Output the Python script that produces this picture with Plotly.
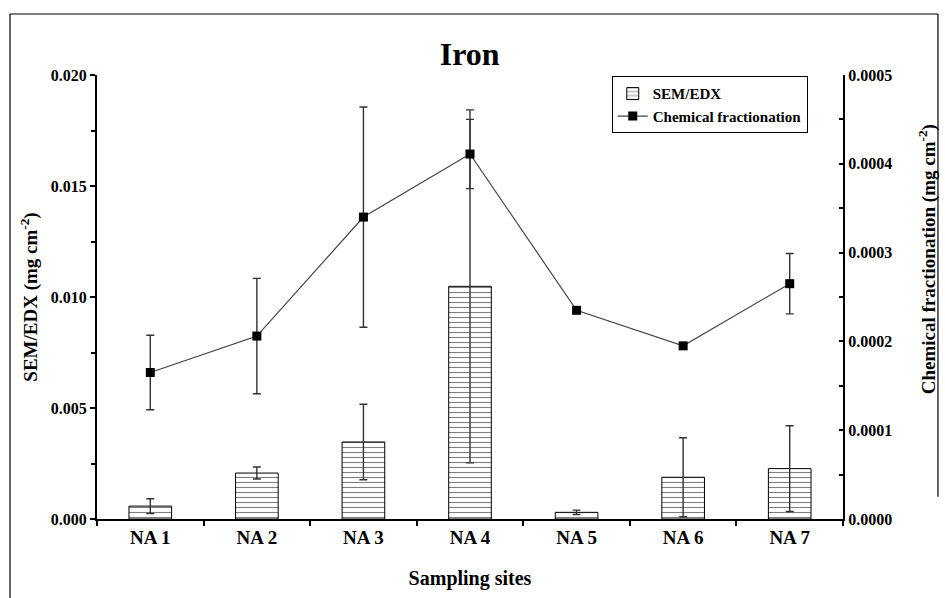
import plotly.graph_objects as go

# Sampling sites
sites = ["NA 1", "NA 2", "NA 3", "NA 4", "NA 5", "NA 6", "NA 7"]

# SEM/EDX iron load (mg cm-2) and its error
sem_edx = [0.00058, 0.00207, 0.00347, 0.01048, 0.00030, 0.00188, 0.00227]
sem_edx_err = [0.00033, 0.00027, 0.00170, 0.00795, 0.00010, 0.00178, 0.00193]

# Chemical fractionation iron load (mg cm-2) and its error
chem_frac = [0.000165, 0.000206, 0.000340, 0.000411, 0.000235, 0.000195, 0.000265]
chem_frac_err = [0.000042, 0.000065, 0.000124, 0.000039, 0.0, 0.0, 0.000034]

FONT = "Liberation Serif"

fig = go.Figure()

fig.add_trace(go.Bar(
    x=sites, y=sem_edx, name="<b>SEM/EDX</b>", width=0.4,
    marker=dict(color="white", line=dict(color="black", width=1),
                pattern=dict(shape="-", fgcolor="black", bgcolor="white",
                             size=5, solidity=0.22)),
    error_y=dict(type="data", array=sem_edx_err, visible=True,
                 color="#333333", thickness=1.4, width=4),
))

fig.add_trace(go.Scatter(
    x=sites, y=chem_frac, name="<b>Chemical fractionation</b>", yaxis="y2",
    mode="lines+markers",
    line=dict(color="#444444", width=1.2),
    marker=dict(symbol="square", size=9, color="black"),
    error_y=dict(type="data", array=chem_frac_err, visible=True,
                 color="#333333", thickness=1.4, width=4),
))

axis_font = dict(family=FONT, size=16, color="black")

fig.update_layout(
    width=945, height=598,
    margin=dict(l=97, r=102, t=75, b=79),
    paper_bgcolor="white", plot_bgcolor="white",
    font=dict(family=FONT, color="black"),
    title=dict(text="<b>Iron</b>", x=0.497, xanchor="center", y=0.91, yanchor="middle",
               font=dict(family=FONT, size=32, color="black")),
    showlegend=True,
    legend=dict(x=0.69, y=0.997, xanchor="left", yanchor="top",
                bgcolor="white", bordercolor="black", borderwidth=1,
                font=dict(family=FONT, size=15, color="black"),
                tracegroupgap=0, itemwidth=30),
    xaxis=dict(
        type="category", tickson="boundaries", ticks="outside", ticklen=5,
        tickwidth=1.5, tickcolor="black",
        showline=True, linecolor="black", linewidth=2, showgrid=False,
        tickfont=dict(family=FONT, size=19, color="black"),
        tickprefix="<b>", ticksuffix="</b>",
        title=dict(text="<b>Sampling sites</b>", standoff=24,
                   font=dict(family=FONT, size=20, color="black")),
    ),
    yaxis=dict(
        range=[0, 0.02], dtick=0.005, tickformat=".3f",
        ticks="outside", ticklen=5, tickwidth=1.5, tickcolor="black",
        showline=True, linecolor="black", linewidth=2, showgrid=False,
        zeroline=False, tickfont=axis_font,
        tickprefix="<b>", ticksuffix="</b>",
        minor=dict(dtick=0.0025, ticks="outside", ticklen=4, tickcolor="black",
                   tickwidth=1.5),
        title=dict(text="<b>SEM/EDX (mg cm<sup>-2</sup>)</b>", standoff=8,
                   font=dict(family=FONT, size=19, color="black")),
    ),
    yaxis2=dict(
        range=[0, 0.0005], dtick=0.0001, tickformat=".4f",
        overlaying="y", side="right", anchor="x",
        ticks="inside", ticklen=4, tickwidth=1.5, tickcolor="black",
        showline=True, linecolor="black", linewidth=2, showgrid=False,
        zeroline=False, tickfont=axis_font,
        tickprefix="<b>", ticksuffix="</b>",
        minor=dict(dtick=0.00005, ticks="inside", ticklen=4, tickcolor="black",
                   tickwidth=1.5),
    ),
    bargap=0.6,
)

# Right-hand axis title, placed a little above the axis centre
fig.add_annotation(
    text="<b>Chemical fractionation (mg cm<sup>-2</sup>)</b>",
    xref="paper", yref="paper", x=1.1126, y=0.585,
    xanchor="center", yanchor="middle", textangle=-90, showarrow=False,
    font=dict(family=FONT, size=19, color="black"),
)

# Outer frame around the figure
frame = dict(type="line", xref="paper", yref="paper",
             line=dict(color="black", width=1.2))
fig.add_shape(**frame, x0=-0.1166, x1=-0.1166, y0=1.1374, y1=-0.2)
fig.add_shape(**frame, x0=-0.1166, x1=1.1273, y0=1.1374, y1=1.1374)
fig.add_shape(**frame, x0=1.1273, x1=1.1273, y0=1.1374, y1=0.05)

fig.write_html("out.html")
